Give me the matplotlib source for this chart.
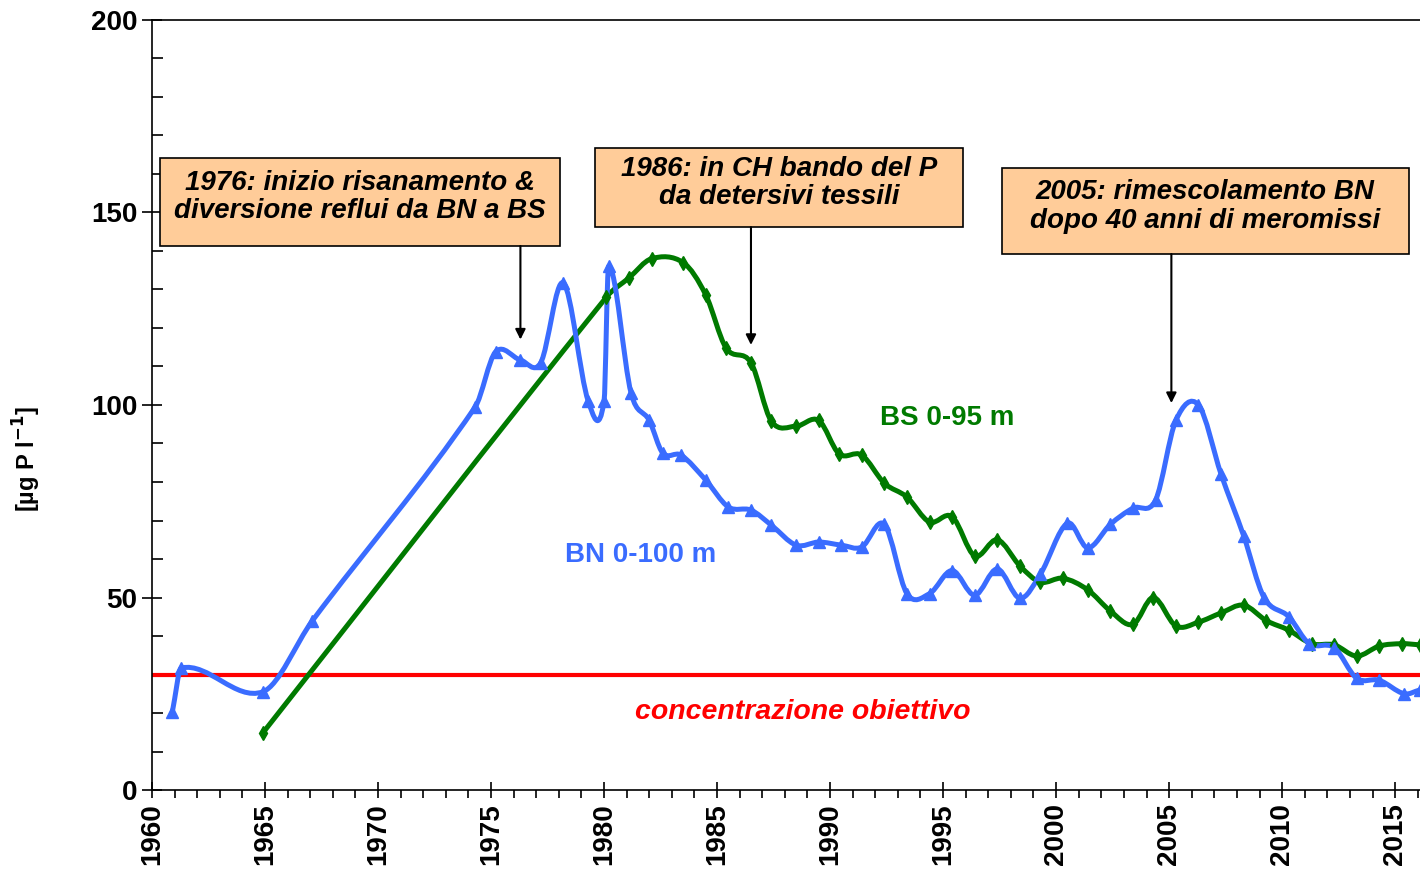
import numpy as np
import matplotlib.pyplot as plt
from matplotlib.path import Path
from matplotlib.patches import PathPatch, Rectangle
from matplotlib.ticker import MultipleLocator

plt.rcParams['font.family'] = ['Liberation Sans', 'DejaVu Sans']
plt.rcParams['mathtext.default'] = 'bf'

# BN 0-100 m
bn_anni = [1960.9, 1961.3, 1964.9, 1967.1, 1974.3, 1975.2, 1976.3, 1977.2, 1978.2, 1979.3,
           1980.0, 1980.2, 1981.2, 1982.0, 1982.6, 1983.4, 1984.5, 1985.5, 1986.5, 1987.4,
           1988.5, 1989.5, 1990.5, 1991.4, 1992.4, 1993.4, 1994.4, 1995.4, 1996.4, 1997.4,
           1998.4, 1999.3, 2000.5, 2001.4, 2002.4, 2003.4, 2004.4, 2005.3, 2006.3, 2007.3,
           2008.3, 2009.2, 2010.3, 2011.2, 2012.3, 2013.3, 2014.3, 2015.4, 2016.1]
bn_P = [20.3, 31.7, 25.5, 44.0, 99.5, 113.8, 111.7, 111.0, 131.7, 101.0,
        101.0, 136.0, 103.0, 96.0, 87.5, 87.0, 80.5, 73.5, 72.7, 68.8,
        63.6, 64.4, 63.6, 63.1, 69.0, 51.0, 51.0, 57.0, 50.6, 57.4,
        49.8, 56.0, 69.3, 62.9, 69.0, 73.2, 75.3, 96.0, 100.0, 82.0,
        66.0, 50.0, 45.0, 38.0, 37.0, 29.0, 28.5, 25.0, 26.0]

# BS 0-95 m
bs_anni = [1964.9, 1980.1, 1981.1, 1982.1, 1983.5, 1984.5, 1985.4, 1986.5, 1987.4, 1988.5,
           1989.5, 1990.4, 1991.4, 1992.4, 1993.4, 1994.4, 1995.4, 1996.4, 1997.4, 1998.4,
           1999.3, 2000.3, 2001.4, 2002.4, 2003.4, 2004.3, 2005.3, 2006.3, 2007.3, 2008.3,
           2009.3, 2010.3, 2011.3, 2012.3, 2013.3, 2014.3, 2015.3, 2016.1]
bs_P = [14.8, 128.0, 133.0, 138.0, 137.0, 128.6, 114.8, 111.0, 95.8, 94.5,
        96.0, 87.3, 87.0, 79.7, 76.1, 69.6, 71.0, 60.8, 65.0, 58.2,
        54.0, 55.0, 52.0, 46.5, 43.0, 50.0, 42.6, 43.6, 46.0, 48.0,
        44.0, 41.5, 38.0, 37.7, 34.8, 37.4, 38.0, 37.7]

obiettivo = 30


def linea_liscia(ax, x, y, colore, lw):
    # curva di Hermite/Bezier attraverso i punti (tangenti calcolate sugli anni)
    x = np.asarray(x, float)
    y = np.asarray(y, float)
    n = len(x)
    m = np.zeros(n)
    for i in range(n):
        a = max(i - 1, 0)
        b = min(i + 1, n - 1)
        m[i] = (y[b] - y[a]) / (x[b] - x[a])
    verts = [(x[0], y[0])]
    codes = [Path.MOVETO]
    for i in range(n - 1):
        h = x[i + 1] - x[i]
        verts += [(x[i] + h / 3, y[i] + m[i] * h / 3),
                  (x[i + 1] - h / 3, y[i + 1] - m[i + 1] * h / 3),
                  (x[i + 1], y[i + 1])]
        codes += [Path.CURVE4] * 3
    ax.add_patch(PathPatch(Path(verts, codes), fill=False, edgecolor=colore,
                           lw=lw, joinstyle='round', capstyle='round', zorder=3))


fig = plt.figure(figsize=(14.2, 8.71), dpi=100)
ax = fig.add_axes([152 / 1420, 81 / 871, 1 - 152 / 1420, 770 / 871])

blu = '#3a6cff'
verde = '#007a00'

linea_liscia(ax, bs_anni, bs_P, verde, 3.6)
ax.plot(bs_anni, bs_P, ls='none', marker='d', ms=7, color=verde, zorder=4)
linea_liscia(ax, bn_anni, bn_P, blu, 3.6)
ax.plot(bn_anni, bn_P, ls='none', marker='^', ms=9, color=blu, zorder=5)

ax.axhline(obiettivo, color='#ff0000', lw=3, zorder=2)

ax.set_xlim(1960, 2016.1)
ax.set_ylim(0, 200)
ax.spines['right'].set_visible(False)
ax.xaxis.set_major_locator(MultipleLocator(5))
ax.xaxis.set_minor_locator(MultipleLocator(1))
ax.yaxis.set_major_locator(MultipleLocator(50))
ax.yaxis.set_minor_locator(MultipleLocator(10))
ax.tick_params(axis='x', which='major', direction='inout', length=12, width=1.2)
ax.tick_params(axis='x', which='minor', direction='out', length=6, width=1.2)
ax.tick_params(axis='y', which='major', direction='inout', length=14, width=1.2)
ax.tick_params(axis='y', which='minor', direction='in', length=8, width=1.2)
ax.tick_params(labelsize=20)
for s in ax.spines.values():
    s.set_linewidth(1.2)
for t in ax.get_xticklabels():
    t.set_rotation(90)
    t.set_fontweight('bold')
for t in ax.get_yticklabels():
    t.set_fontweight('bold')

ax.set_ylabel('[µg P l$^{-1}$]', fontsize=17, fontweight='bold')
ax.yaxis.set_label_coords(-0.086, 0.43)

ax.text(1981.6, 61, 'BN 0-100 m', color=blu, fontsize=20, fontweight='bold',
        ha='center', va='center')
ax.text(1995.2, 96.6, 'BS 0-95 m', color=verde, fontsize=20, fontweight='bold',
        ha='center', va='center')
ax.text(1988.8, 20.3, 'concentrazione obiettivo', color='#ff0000', fontsize=20.5,
        fontweight='bold', style='italic', ha='center', va='center')

box = [
    (1960.35, 141.3, 17.7, 22.9, '1976: inizio risanamento &\ndiversione reflui da BN a BS', 1976.3, 117),
    (1979.6, 146.2, 16.3, 20.6, '1986: in CH bando del P\nda detersivi tessili', 1986.5, 115.6),
    (1997.6, 139.2, 18.0, 22.4, '2005: rimescolamento BN\ndopo 40 anni di meromissi', 2005.1, 100.5),
]
for x0, y0, w, h, testo, xa, ya in box:
    ax.add_patch(Rectangle((x0, y0), w, h, facecolor='#ffcc99', edgecolor='black',
                           lw=1.2, zorder=6))
    ax.text(x0 + w / 2, y0 + h / 2 + 1.2, testo, fontsize=20, fontweight='bold',
            style='italic', ha='center', va='center', linespacing=1.12, zorder=7)
    ax.annotate('', xy=(xa, ya), xytext=(xa, y0),
                arrowprops=dict(arrowstyle='-|>', color='black', lw=1.5,
                                mutation_scale=15, shrinkA=0, shrinkB=0), zorder=6)

plt.savefig('out.png', dpi=100)
